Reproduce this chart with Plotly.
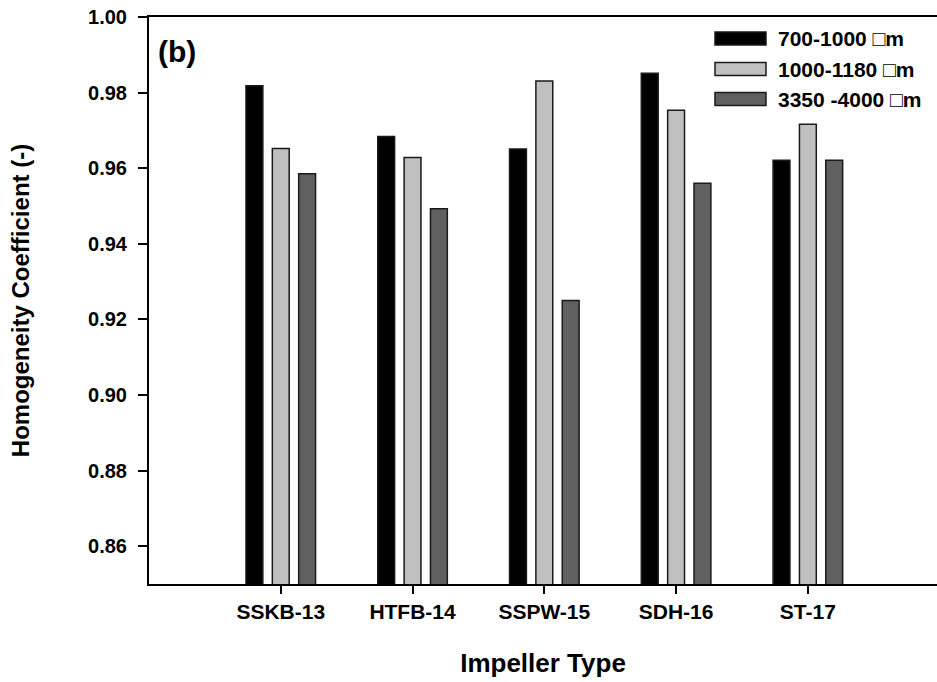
import plotly.graph_objects as go

categories = ["SSKB-13", "HTFB-14", "SSPW-15", "SDH-16", "ST-17"]
series_names = ["700-1000 \u25a1m", "1000-1180 \u25a1m", "3350 -4000 \u25a1m"]
s1 = [0.9818, 0.9684, 0.9651, 0.9851, 0.9621]
s2 = [0.9652, 0.9628, 0.9831, 0.9753, 0.9716]
s3 = [0.9585, 0.9493, 0.9250, 0.9560, 0.9621]
y_ticks = [0.86, 0.88, 0.90, 0.92, 0.94, 0.96, 0.98, 1.00]

colors = ["#000000", "#c0c0c0", "#606060"]
FONT = "Liberation Sans, Arial, sans-serif"

W, H = 937, 682
L, R, T, B = 149, 0, 17, 98

fig = go.Figure()
xs = list(range(len(categories)))
for name, vals, c in zip(series_names, [s1, s2, s3], colors):
    fig.add_trace(go.Bar(x=xs, y=vals, name=name, marker_color=c,
                         marker_line=dict(color="#1a1a1a", width=1.5),
                         showlegend=False))

# custom legend (large swatches like the original)
pw, ph = W - L - R, H - T - B
def px(x):
    return (x - L) / pw
def py(y):
    return (H - B - y) / ph

rows = [38.5, 69, 99]
shapes = []
annotations = []
for yc, name, c in zip(rows, series_names, colors):
    shapes.append(dict(type="rect", xref="paper", yref="paper",
                       x0=px(715), x1=px(766), y0=py(yc + 6.5), y1=py(yc - 6.5),
                       fillcolor=c, line=dict(color="#1a1a1a", width=1.5)))
    annotations.append(dict(xref="paper", yref="paper", x=px(776), y=py(yc),
                            text="<b>" + name + "</b>", showarrow=False,
                            xanchor="left", yanchor="middle",
                            font=dict(family=FONT, size=21, color="black")))

annotations.append(dict(xref="paper", yref="paper", x=px(156), y=py(51),
                        text="<b>(b)</b>", showarrow=False, xanchor="left", yanchor="middle",
                        font=dict(family=FONT, size=30, color="black")))

fig.update_layout(
    width=W, height=H,
    margin=dict(l=L, r=R, t=T, b=B, pad=0),
    paper_bgcolor="white", plot_bgcolor="white",
    barmode="group", bargap=0.4, bargroupgap=0.36,
    shapes=shapes, annotations=annotations,
    font=dict(family=FONT, color="black"),
)
fig.update_xaxes(
    range=[-1, 4.98], tickmode="array", tickvals=xs,
    ticktext=["<b>%s</b>" % c for c in categories],
    ticks="outside", ticklen=8, tickwidth=1.5, tickcolor="black",
    showline=True, linecolor="black", linewidth=2, mirror=True,
    showgrid=False, zeroline=False,
    tickfont=dict(family=FONT, size=21, color="black"),
    title=dict(text="<b>Impeller Type</b>", font=dict(family=FONT, size=26, color="black"), standoff=32),
)
fig.update_yaxes(
    range=[0.85, 1.00], tickmode="array", tickvals=y_ticks,
    ticktext=["<b>%.2f</b>" % v for v in y_ticks],
    ticks="outside", ticklen=9, tickwidth=1.5, tickcolor="black",
    ticklabelstandoff=7,
    showline=True, linecolor="black", linewidth=2, mirror=False,
    showgrid=False, zeroline=False,
    tickfont=dict(family=FONT, size=20, color="black"),
    title=dict(text="<b>Homogeneity Coefficient (-)</b>", font=dict(family=FONT, size=24, color="black"), standoff=52),
)

fig.write_html("out.html")
